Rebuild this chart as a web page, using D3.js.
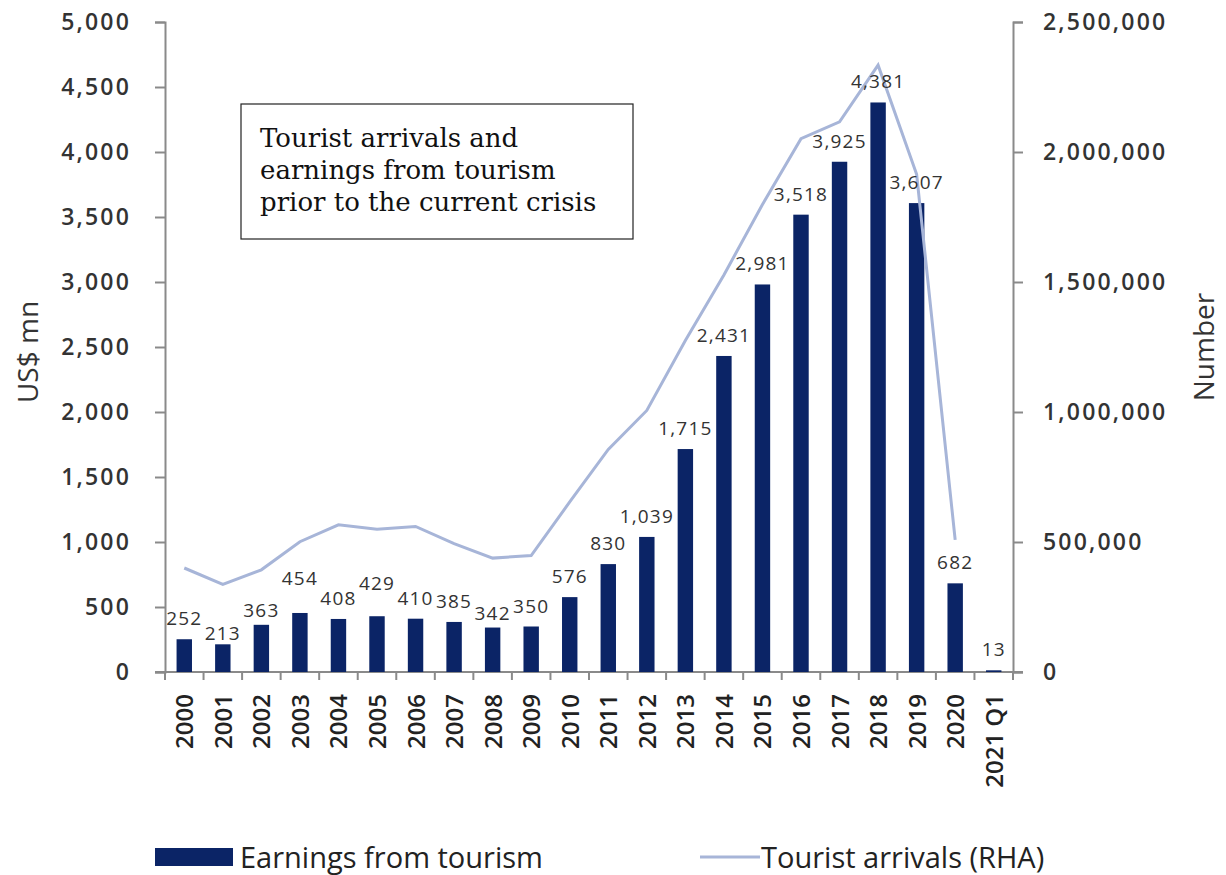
<!doctype html>
<html lang="en">
<head>
  <meta charset="utf-8">
  <title>Tourist arrivals and earnings</title>
  <script src="https://cdn.jsdelivr.net/npm/d3@7"></script>
  <style>
    body{margin:0;background:#fff}
    .tick-lbl{font-family:"Open Sans",sans-serif;font-weight:600;font-size:23px;fill:#333;letter-spacing:2.2px}
    .xlbl{font-family:"Open Sans",sans-serif;font-weight:600;font-size:24px;fill:#222}
    .val{font-family:"Open Sans",sans-serif;font-size:19px;fill:#333;letter-spacing:1.2px}
    .ttl{font-family:"Open Sans",sans-serif;font-size:28px;fill:#333}
    .leg{font-family:"Open Sans",sans-serif;font-size:29px;fill:#222}
    .note{font-family:"DejaVu Serif","Liberation Serif",serif;font-size:26px;fill:#111}
  </style>
</head>
<body>
<div id="chart"></div>
<script>
var years = ["2000","2001","2002","2003","2004","2005","2006","2007","2008","2009","2010",
  "2011","2012","2013","2014","2015","2016","2017","2018","2019","2020","2021 Q1"];
var earnings = [252,213,363,454,408,429,410,385,342,350,576,830,1039,1715,2431,2981,3518,3925,4381,3607,682,13];
var arrivals = [400000,337000,393000,501000,566000,549000,560000,494000,438000,448000,654000,
  856000,1006000,1275000,1527000,1798000,2051000,2116000,2334000,1914000,508000];
var leftTicks = [0,500,1000,1500,2000,2500,3000,3500,4000,4500,5000];
var rightTicks = [0,500000,1000000,1500000,2000000,2500000];
// small nudges for crowded value labels
var labelLift = {"2001":-10,"2002":-6,"2003":14,"2005":12,"2008":-6};

var W = 1226, H = 875, mLeft = 165, mRight = 1013, mTop = 22, mBottom = 672;
var svg = d3.select("#chart").append("svg").attr("width", W).attr("height", H);

var x = d3.scaleBand().domain(years).range([mLeft, mRight]).paddingInner(0.6).paddingOuter(0.3);
var y = d3.scaleLinear().domain([0, 5000]).range([mBottom, mTop]);
var y2 = d3.scaleLinear().domain([0, 2500000]).range([mBottom, mTop]);
var fmt = d3.format(",");
var axisCol = "#8a8a8a";

// left axis
var gl = svg.append("g").attr("transform", "translate(" + mLeft + ",0)")
  .call(d3.axisLeft(y).tickValues(leftTicks).tickFormat(fmt).tickSize(10).tickPadding(24));
gl.select(".domain").attr("stroke", axisCol).attr("stroke-width", 2);
gl.selectAll(".tick line").attr("stroke", axisCol).attr("stroke-width", 2);
gl.selectAll(".tick text").attr("class", "tick-lbl");

// right axis
var gr = svg.append("g").attr("transform", "translate(" + mRight + ",0)")
  .call(d3.axisRight(y2).tickValues(rightTicks).tickFormat(fmt).tickSize(10).tickPadding(20));
gr.select(".domain").attr("stroke", axisCol).attr("stroke-width", 2);
gr.selectAll(".tick line").attr("stroke", axisCol).attr("stroke-width", 2);
gr.selectAll(".tick text").attr("class", "tick-lbl");

// x axis line and ticks at band boundaries
var step = x.step();
svg.append("line").attr("x1", mLeft - 10).attr("x2", mRight + 10)
  .attr("y1", mBottom).attr("y2", mBottom).attr("stroke", axisCol).attr("stroke-width", 2);
svg.selectAll("line.xt").data(d3.range(years.length + 1)).enter().append("line")
  .attr("class", "xt")
  .attr("x1", function (i) { return mLeft + i * step; })
  .attr("x2", function (i) { return mLeft + i * step; })
  .attr("y1", mBottom).attr("y2", mBottom + 8)
  .attr("stroke", axisCol).attr("stroke-width", 2);

svg.selectAll("text.xlbl").data(years).enter().append("text")
  .attr("class", "xlbl")
  .attr("transform", function (d) {
    return "translate(" + (x(d) + x.bandwidth() / 2 + 9) + "," + (mBottom + 22) + ")rotate(-90)";
  })
  .attr("text-anchor", "end")
  .text(function (d) { return d; });

// bars
svg.selectAll("rect.bar").data(years).enter().append("rect")
  .attr("class", "bar")
  .attr("x", function (d) { return x(d); })
  .attr("width", x.bandwidth())
  .attr("y", function (d, i) { return y(earnings[i]); })
  .attr("height", function (d, i) { return mBottom - y(earnings[i]); })
  .attr("fill", "#0b2466");

// arrivals line
var line = d3.line()
  .x(function (d, i) { return x(years[i]) + x.bandwidth() / 2; })
  .y(function (d) { return y2(d); });
svg.append("path").datum(arrivals).attr("d", line)
  .attr("fill", "none").attr("stroke", "#a7b5d8").attr("stroke-width", 3);

// value labels
svg.selectAll("text.val").data(years).enter().append("text")
  .attr("class", "val")
  .attr("text-anchor", "middle")
  .attr("x", function (d) { return x(d) + x.bandwidth() / 2; })
  .attr("y", function (d, i) { return y(earnings[i]) - 14 - (labelLift[d] || 0); })
  .text(function (d, i) { return fmt(earnings[i]); });

// axis titles
svg.append("text").attr("class", "ttl").attr("text-anchor", "middle")
  .attr("transform", "translate(38,352)rotate(-90)").text("US$ mn");
svg.append("text").attr("class", "ttl").attr("text-anchor", "middle")
  .attr("transform", "translate(1214,347)rotate(-90)").text("Number");

// note box
svg.append("rect").attr("x", 241).attr("y", 104).attr("width", 392).attr("height", 135)
  .attr("fill", "#fff").attr("stroke", "#222").attr("stroke-width", 1.2);
var note = ["Tourist arrivals and", "earnings from tourism", "prior to the current crisis"];
svg.selectAll("text.note").data(note).enter().append("text")
  .attr("class", "note").attr("x", 260)
  .attr("y", function (d, i) { return 147 + i * 32; })
  .text(function (d) { return d; });

// legend
svg.append("rect").attr("x", 155).attr("y", 848).attr("width", 78).attr("height", 18).attr("fill", "#0b2466");
svg.append("text").attr("class", "leg").attr("x", 240).attr("y", 868).text("Earnings from tourism");
svg.append("line").attr("x1", 700).attr("x2", 760).attr("y1", 857).attr("y2", 857)
  .attr("stroke", "#a7b5d8").attr("stroke-width", 3);
svg.append("text").attr("class", "leg").attr("x", 761).attr("y", 868).text("Tourist arrivals (RHA)");
</script>
</body>
</html>
